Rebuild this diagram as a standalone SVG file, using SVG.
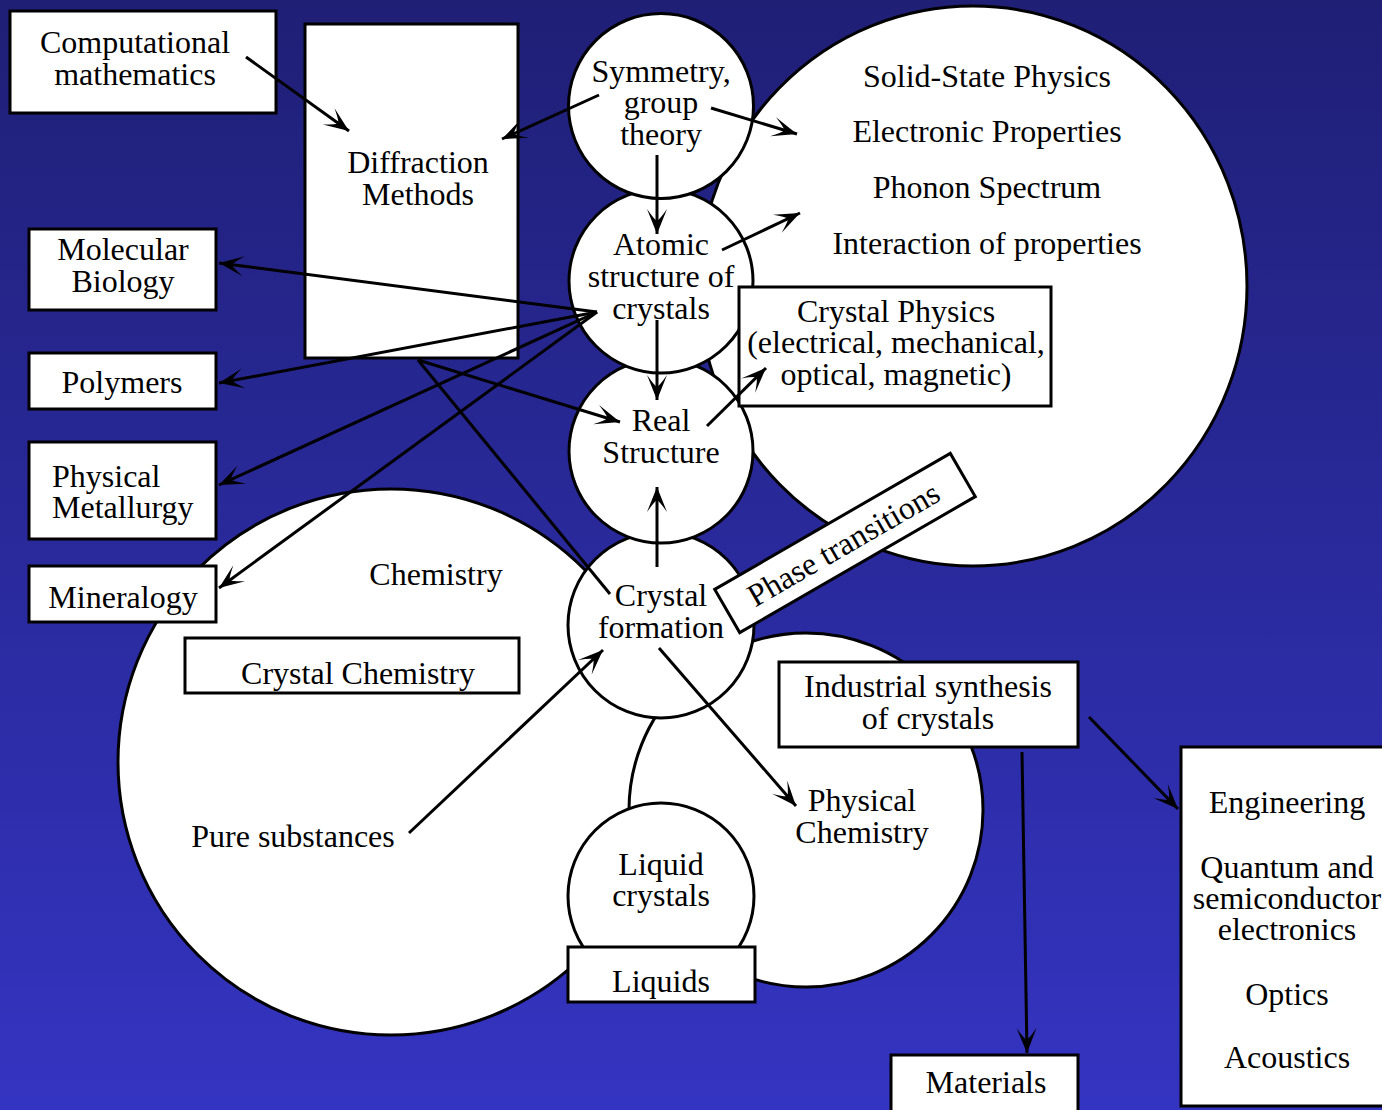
<svg xmlns="http://www.w3.org/2000/svg" width="1382" height="1110" viewBox="0 0 1382 1110">
  <defs>
    <linearGradient id="bg" x1="0" y1="0" x2="0" y2="1">
      <stop offset="0" stop-color="#1f1f76"/>
      <stop offset="1" stop-color="#3434c2"/>
    </linearGradient>
    <marker id="head" markerUnits="userSpaceOnUse" markerWidth="28" markerHeight="24" viewBox="-26 -12 28 24" refX="0" refY="0" orient="auto">
      <path d="M0,0 L-25,-10 Q-15,-3 -13,0 Q-15,3 -25,10 Z" fill="#000"/>
    </marker>
    <style>
      .shape { fill: #fff; stroke: #000; stroke-width: 3; }
      .t { font-family: "Liberation Serif", "Times New Roman", serif; font-size: 32px; fill: #000; text-anchor: middle; }
      .tl { text-anchor: start; }
      .link { fill: none; stroke: #000; stroke-width: 3; }
      .arrow { marker-end: url(#head); }
    </style>
  </defs>

  <rect x="0" y="0" width="1382" height="1110" fill="url(#bg)"/>

  <!-- large field circles -->
  <g id="solid-state-physics">
    <ellipse class="shape" cx="973" cy="286" rx="274" ry="280"/>
    <text class="t" x="987" y="87">Solid-State Physics</text>
    <text class="t" x="987" y="142">Electronic Properties</text>
    <text class="t" x="987" y="198">Phonon Spectrum</text>
    <text class="t" x="987" y="254">Interaction of properties</text>
  </g>
  <g id="chemistry">
    <circle class="shape" cx="391" cy="762" r="273"/>
    <text class="t" x="436" y="585">Chemistry</text>
    <text class="t" x="293" y="847">Pure substances</text>
  </g>
  <g id="physical-chemistry">
    <circle class="shape" cx="806" cy="810" r="177"/>
    <text class="t" x="862" y="811">Physical</text>
    <text class="t" x="862" y="843">Chemistry</text>
  </g>

  <!-- central chain of circles, drawn bottom to top -->
  <g id="liquid-crystals">
    <circle class="shape" cx="661" cy="896" r="93"/>
    <text class="t" x="661" y="875">Liquid</text>
    <text class="t" x="661" y="906">crystals</text>
  </g>
  <g id="crystal-formation">
    <circle class="shape" cx="661" cy="625" r="93"/>
    <text class="t" x="661" y="606">Crystal</text>
    <text class="t" x="661" y="638">formation</text>
  </g>
  <g id="real-structure">
    <circle class="shape" cx="661" cy="451" r="92"/>
    <text class="t" x="661" y="431">Real</text>
    <text class="t" x="661" y="463">Structure</text>
  </g>
  <g id="atomic-structure">
    <circle class="shape" cx="661" cy="281" r="92"/>
    <text class="t" x="661" y="255">Atomic</text>
    <text class="t" x="661" y="287">structure of</text>
    <text class="t" x="661" y="319">crystals</text>
  </g>
  <g id="symmetry">
    <circle class="shape" cx="661" cy="106" r="92.5"/>
    <text class="t" x="661" y="82">Symmetry,</text>
    <text class="t" x="661" y="113">group</text>
    <text class="t" x="661" y="145">theory</text>
  </g>

  <!-- boxes -->
  <g id="computational-mathematics">
    <rect class="shape" x="10" y="11" width="266" height="102"/>
    <text class="t" x="135" y="53">Computational</text>
    <text class="t" x="135" y="85">mathematics</text>
  </g>
  <g id="diffraction-methods">
    <rect class="shape" x="305" y="24" width="213" height="334"/>
    <text class="t" x="418" y="173">Diffraction</text>
    <text class="t" x="418" y="205">Methods</text>
  </g>
  <g id="molecular-biology">
    <rect class="shape" x="29" y="229" width="187" height="81"/>
    <text class="t" x="123" y="260">Molecular</text>
    <text class="t" x="123" y="292">Biology</text>
  </g>
  <g id="polymers">
    <rect class="shape" x="29" y="353" width="187" height="56"/>
    <text class="t" x="122" y="393">Polymers</text>
  </g>
  <g id="physical-metallurgy">
    <rect class="shape" x="29" y="442" width="187" height="97"/>
    <text class="t tl" x="52" y="487">Physical</text>
    <text class="t tl" x="52" y="518">Metallurgy</text>
  </g>
  <g id="mineralogy">
    <rect class="shape" x="29" y="566" width="187" height="56"/>
    <text class="t" x="123" y="608">Mineralogy</text>
  </g>
  <g id="crystal-chemistry">
    <rect class="shape" x="185" y="638" width="334" height="55"/>
    <text class="t" x="358" y="684">Crystal Chemistry</text>
  </g>
  <g id="crystal-physics">
    <rect class="shape" x="739" y="287" width="312" height="119"/>
    <text class="t" x="896" y="322">Crystal Physics</text>
    <text class="t" x="896" y="353">(electrical, mechanical,</text>
    <text class="t" x="896" y="385">optical, magnetic)</text>
  </g>
  <g id="phase-transitions">
    <g transform="translate(845 543) rotate(-30)">
      <rect class="shape" x="-136" y="-25" width="272" height="50"/>
      <text class="t" x="-2" y="11">Phase transitions</text>
    </g>
  </g>
  <g id="industrial-synthesis">
    <rect class="shape" x="779" y="662" width="299" height="85"/>
    <text class="t" x="928" y="697">Industrial synthesis</text>
    <text class="t" x="928" y="729">of crystals</text>
  </g>
  <g id="liquids">
    <rect class="shape" x="568" y="947" width="187" height="55"/>
    <text class="t" x="661" y="992">Liquids</text>
  </g>
  <g id="materials">
    <rect class="shape" x="891" y="1055" width="187" height="70"/>
    <text class="t" x="986" y="1093">Materials</text>
  </g>
  <g id="applications">
    <rect class="shape" x="1181" y="747" width="220" height="359"/>
    <text class="t" x="1287" y="813">Engineering</text>
    <text class="t" x="1287" y="878">Quantum and</text>
    <text class="t" x="1287" y="909">semiconductor</text>
    <text class="t" x="1287" y="940">electronics</text>
    <text class="t" x="1287" y="1005">Optics</text>
    <text class="t" x="1287" y="1068">Acoustics</text>
  </g>

  <!-- connectors -->
  <g id="connectors">
    <line class="link arrow" x1="246" y1="57" x2="349" y2="131"/>
    <line class="link arrow" x1="599" y1="95" x2="502" y2="139"/>
    <line class="link arrow" x1="711" y1="108" x2="797" y2="134"/>
    <line class="link arrow" x1="657" y1="155" x2="657" y2="234"/>
    <line class="link arrow" x1="722" y1="250" x2="800" y2="213"/>
    <line class="link arrow" x1="657" y1="320" x2="657" y2="400"/>
    <line class="link arrow" x1="597" y1="312" x2="219" y2="263"/>
    <line class="link arrow" x1="597" y1="312" x2="219" y2="383"/>
    <line class="link arrow" x1="597" y1="312" x2="219" y2="485"/>
    <line class="link arrow" x1="597" y1="312" x2="219" y2="588"/>
    <line class="link arrow" x1="418" y1="360" x2="620" y2="422"/>
    <line class="link" x1="418" y1="360" x2="610" y2="594"/>
    <line class="link arrow" x1="657" y1="567" x2="657" y2="487"/>
    <line class="link arrow" x1="707" y1="426" x2="766" y2="368"/>
    <line class="link arrow" x1="409" y1="833" x2="603" y2="650"/>
    <line class="link arrow" x1="659" y1="648" x2="796" y2="806"/>
    <line class="link arrow" x1="1089" y1="717" x2="1178" y2="809"/>
    <line class="link arrow" x1="1022" y1="752" x2="1027" y2="1053"/>
  </g>
</svg>
